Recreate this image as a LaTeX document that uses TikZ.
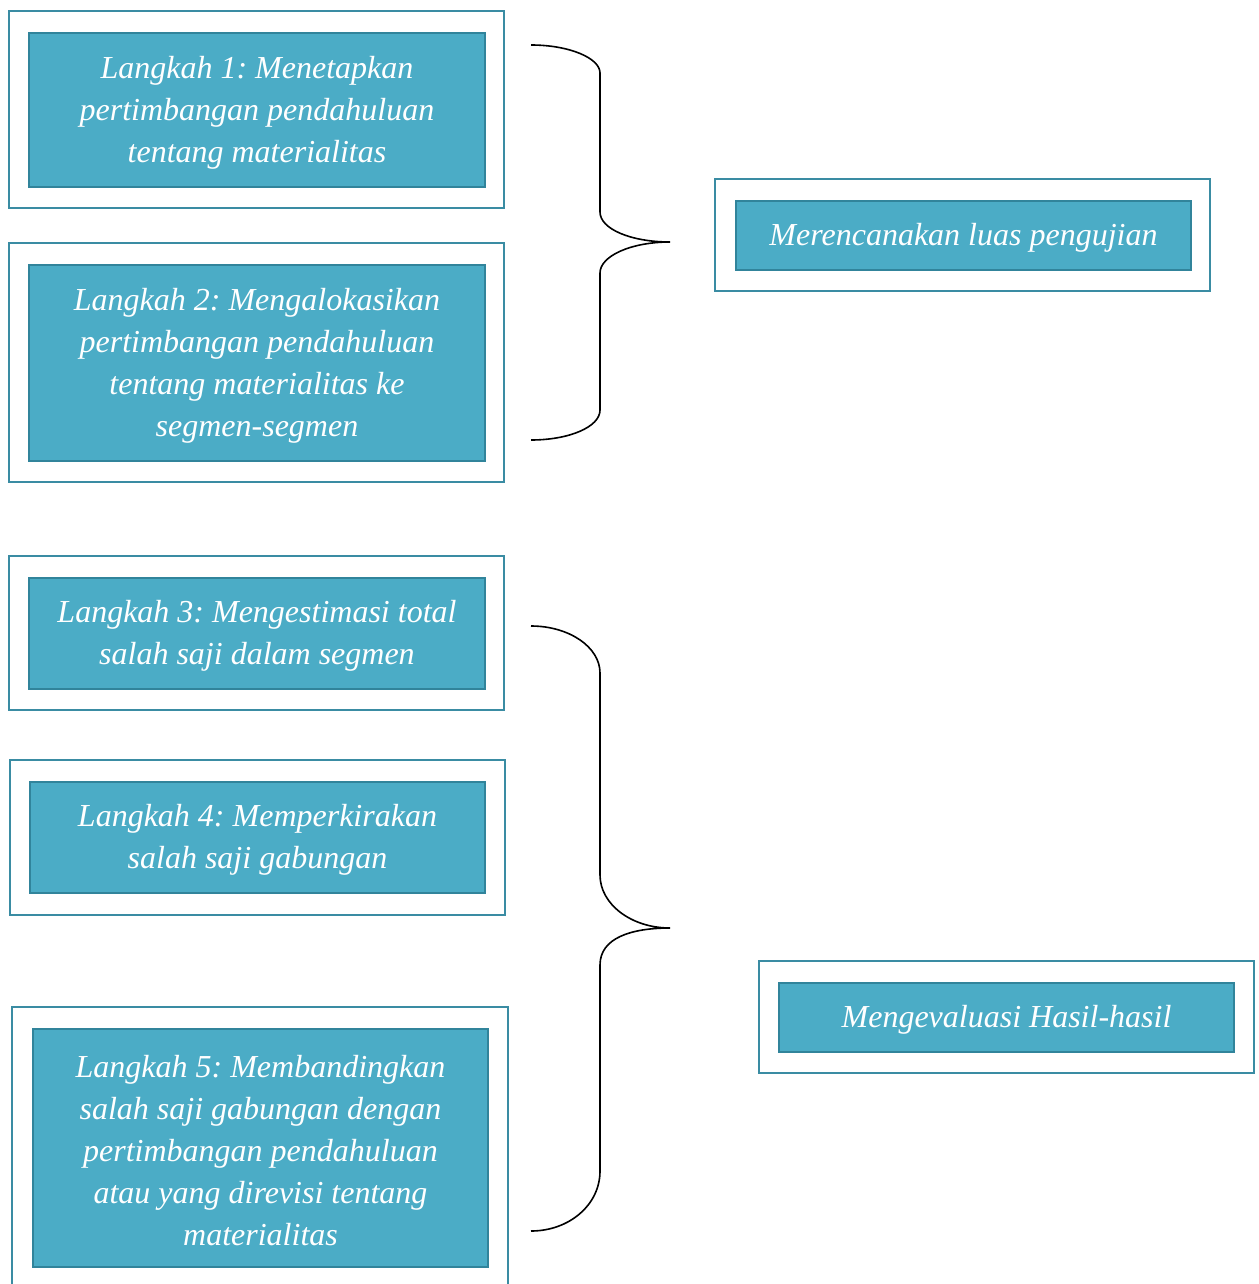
\documentclass[tikz,border=0pt]{standalone}
\usepackage{fontspec}
\setmainfont{Liberation Serif}
\definecolor{boxfill}{HTML}{4BACC6}
\definecolor{boxline}{HTML}{31849B}
\definecolor{frameline}{HTML}{3A8CA3}
\begin{document}
\begin{tikzpicture}[x=1pt,y=-1pt,
  framebox/.style={draw=frameline,line width=2pt},
  stepbox/.style={draw=boxline,fill=boxfill,line width=2pt,inner sep=0pt},
  steptext/.style={text=white,
    font=\fontsize{32}{42}\selectfont\itshape\frenchspacing,align=center,inner sep=0pt,yshift=-2.5pt},
  bracestyle/.style={draw=black,line width=1.6pt}]
\useasboundingbox (0,0) rectangle (1258,1284);
% outer frames
\draw[framebox] (9,11) rectangle (504,208);
\draw[framebox] (9,243) rectangle (504,482);
\draw[framebox] (9,556) rectangle (504,710);
\draw[framebox] (10,760) rectangle (505,915);
\draw[framebox] (12,1290) |- (508,1007) -- (508,1290);
\draw[framebox] (715,179) rectangle (1210,291);
\draw[framebox] (759,961) rectangle (1254,1073);
% inner boxes
\node[stepbox,minimum width=456pt,minimum height=154pt] (s1) at (257,110) {};
\node[steptext] (s1t) at (s1.center)
  {Langkah 1: Menetapkan\\pertimbangan pendahuluan\\tentang materialitas};
\node[stepbox,minimum width=456pt,minimum height=196pt] (s2) at (257,363) {};
\node[steptext] (s2t) at (s2.center)
  {Langkah 2: Mengalokasikan\\pertimbangan pendahuluan\\tentang materialitas ke\\segmen-segmen};
\node[stepbox,minimum width=456pt,minimum height=111pt] (s3) at (257,633.5) {};
\node[steptext] (s3t) at (s3.center)
  {Langkah 3: Mengestimasi total\\salah saji dalam segmen};
\node[stepbox,minimum width=455pt,minimum height=111pt] (s4) at (257.5,837.5) {};
\node[steptext] (s4t) at (s4.center)
  {Langkah 4: Memperkirakan\\salah saji gabungan};
\node[stepbox,minimum width=455pt,minimum height=238pt] (s5) at (260.5,1148) {};
\node[steptext] (s5t) at (s5.center)
  {Langkah 5: Membandingkan\\salah saji gabungan dengan\\pertimbangan pendahuluan\\atau yang direvisi tentang\\materialitas};
\node[stepbox,minimum width=455pt,minimum height=69pt] (r1) at (963.5,235.5) {};
\node[steptext] (r1t) at (r1.center) {Merencanakan luas pengujian};
\node[stepbox,minimum width=455pt,minimum height=69pt] (r2) at (1006.5,1017.5) {};
\node[steptext] (r2t) at (r2.center) {Mengevaluasi Hasil-hasil};
% braces
\coordinate (b1t) at (531,45);
\coordinate (b1m) at (670,242);
\coordinate (b1b) at (531,440);
\draw[bracestyle] (b1t) .. controls (569,45) and (600,58) .. (600,73)
  -- (600,212) .. controls (600,229) and (631,242) .. (b1m)
  .. controls (631,242) and (600,256) .. (600,273)
  -- (600,410) .. controls (600,427) and (569,440) .. (b1b);
\coordinate (b2t) at (531,626);
\coordinate (b2m) at (670,928);
\coordinate (b2b) at (531,1231);
\draw[bracestyle] (b2t) .. controls (569,626) and (600,647) .. (600,673)
  -- (600,875) .. controls (600,904) and (631,928) .. (b2m)
  .. controls (631,928) and (600,938) .. (600,965)
  -- (600,1171) .. controls (600,1205) and (569,1231) .. (b2b);
\end{tikzpicture}
\end{document}
